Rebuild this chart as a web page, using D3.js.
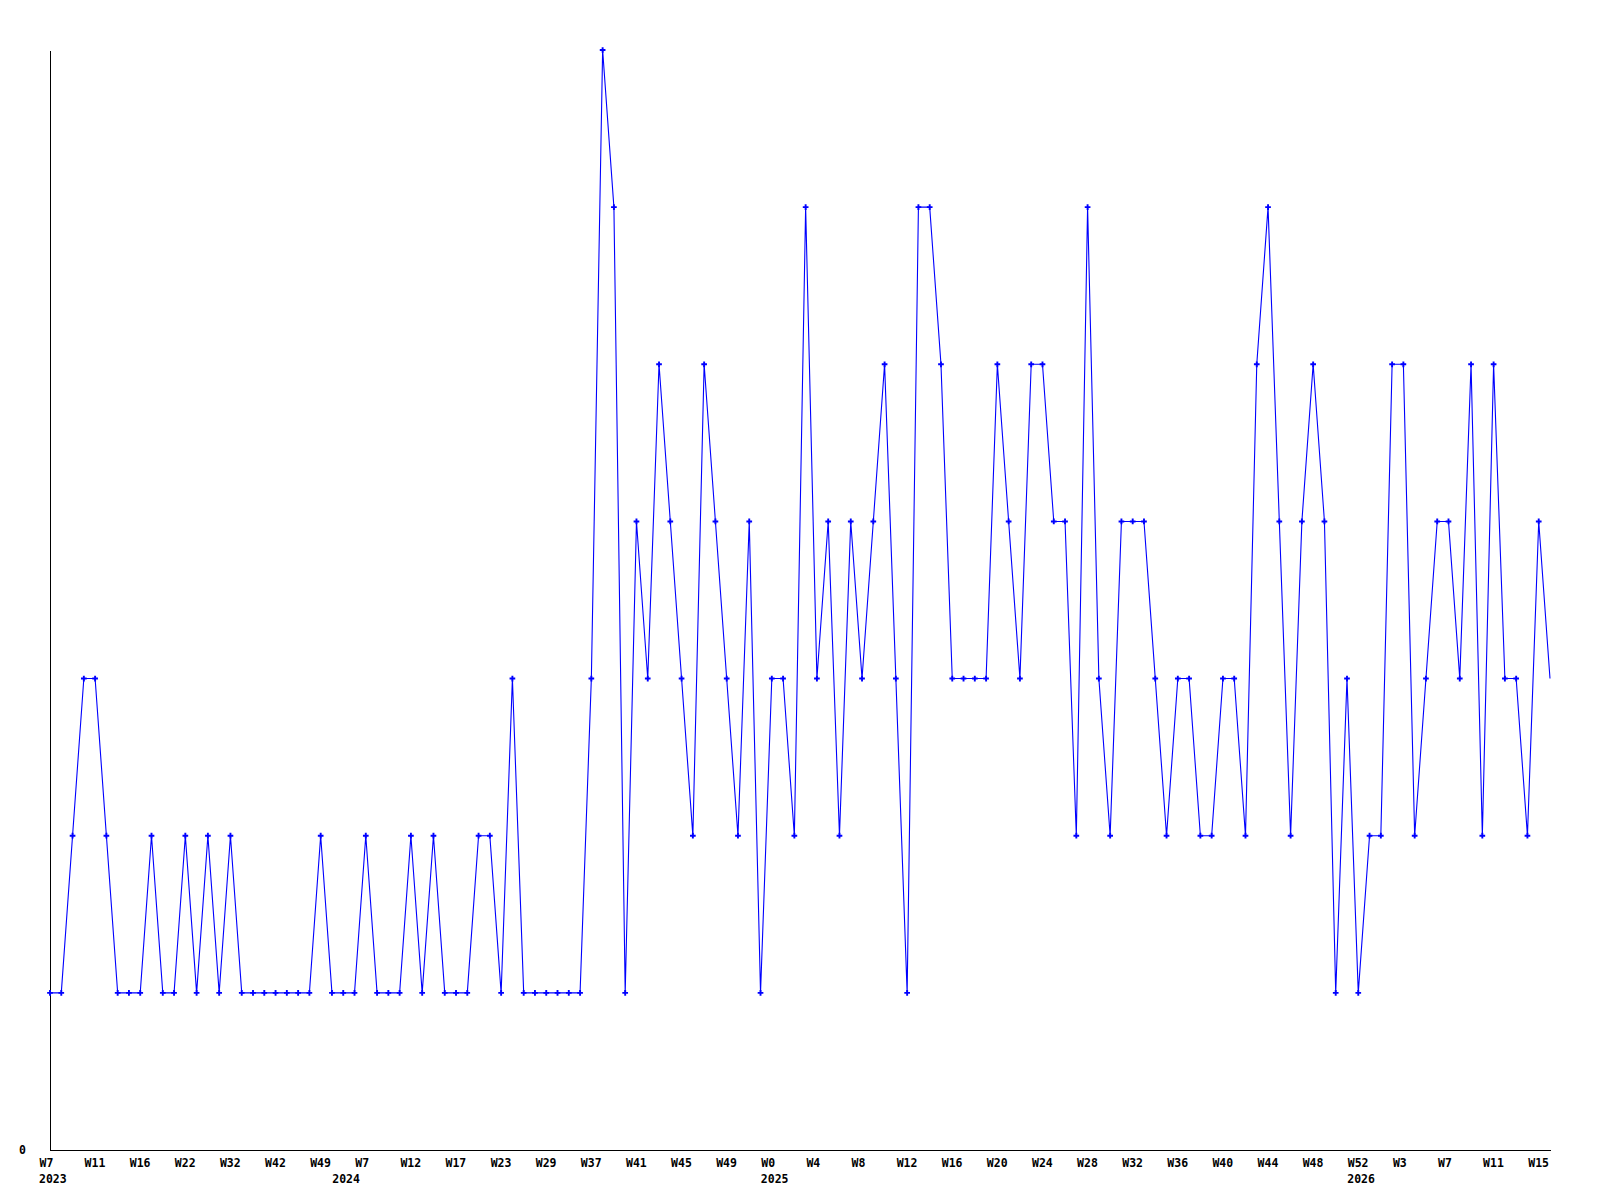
<!DOCTYPE html>
<html>
<head>
<meta charset="utf-8">
<script src="https://cdn.jsdelivr.net/npm/d3@7"></script>
<style>
  body { margin: 0; background: #ffffff; }
  text { font-family: "DejaVu Sans Mono", monospace; font-weight: bold; font-size: 11.5px; fill: #000000; }
</style>
</head>
<body>
<div id="chart"></div>
<script>
// weekly counts, one per point
const counts = [
    1, 1, 2, 3, 3, 2, 1, 1, 1, 2, 1, 1, 2, 1, 2, 1, 2, 1, 1, 1, 1, 1, 1, 1, 2,
    1, 1, 1, 2, 1, 1, 1, 2, 1, 2, 1, 1, 1, 2, 2, 1, 3, 1, 1, 1, 1, 1, 1, 3,
    7, 6, 1, 4, 3, 5, 4, 3, 2, 5, 4, 3, 2, 4, 1, 3, 3, 2, 6, 3, 4,
    2, 4, 3, 4, 5, 3, 1, 6, 6, 5, 3, 3, 3, 3, 5, 4, 3, 5, 5, 4, 4, 2,
    6, 3, 2, 4, 4, 4, 3, 2, 3, 3, 2, 2, 3, 3, 2, 5, 6, 4, 2, 4, 5,
    4, 1, 3, 1, 2, 2, 5, 5, 2, 3, 4, 4, 3, 5, 2, 5, 3, 3, 2, 4, 3
];

// one label every 4th point
const weekLabels = [
    "W7", "W11", "W16", "W22", "W32", "W42", "W49", "W7", "W12", "W17", "W23",
    "W29", "W37", "W41", "W45", "W49", "W0", "W4", "W8", "W12", "W16", "W20", "W24",
    "W28", "W32", "W36", "W40", "W44", "W48", "W52", "W3", "W7", "W11", "W15"
];
const labelStep = 4;

const years = ["2023", "2024", "2025", "2026"];
const yearStart = [0, 26, 64, 116];

const width = 1600;
const height = 1200;
const plotLeft = 50, plotRight = 1550, plotTop = 50, plotBottom = 1150;

const x = d3.scaleLinear()
    .domain([0, counts.length - 1])
    .range([plotLeft, plotRight]);

const y = d3.scaleLinear()
    .domain([0, 7])
    .range([plotBottom, plotTop]);

const svg = d3.select("#chart")
    .append("svg")
    .attr("width", width)
    .attr("height", height)
    .style("background", "#ffffff");

// x axis
const xAxis = d3.axisBottom(x)
    .tickValues(weekLabels.map((d, i) => i * labelStep))
    .tickFormat((d, i) => weekLabels[i])
    .tickSize(0)
    .tickSizeOuter(0)
    .tickPadding(9);

const gx = svg.append("g")
    .attr("transform", `translate(0,${plotBottom})`)
    .call(xAxis);
gx.select(".domain").attr("stroke", "#000000").attr("shape-rendering", "crispEdges");
gx.selectAll("text")
    .attr("text-anchor", "start")
    .attr("dx", -11)
    .style("font-family", "'DejaVu Sans Mono', monospace")
    .style("font-weight", "bold")
    .style("font-size", "11.5px");

// y axis, only the zero is labelled
const yAxis = d3.axisLeft(y)
    .tickValues([0])
    .tickFormat(d3.format("d"))
    .tickSize(0)
    .tickSizeOuter(0)
    .tickPadding(24);

const gy = svg.append("g")
    .attr("transform", `translate(${plotLeft},0)`)
    .call(yAxis);
gy.select(".domain").attr("stroke", "#000000").attr("shape-rendering", "crispEdges");
gy.selectAll("text")
    .style("font-family", "'DejaVu Sans Mono', monospace")
    .style("font-weight", "bold")
    .style("font-size", "11.5px");

// year labels under the week labels
svg.append("g")
    .selectAll("text")
    .data(years)
    .enter()
    .append("text")
    .attr("x", (d, i) => x(yearStart[i]) - 11)
    .attr("y", plotBottom + 32.5)
    .text(d => d);

// the series
const line = d3.line()
    .x((d, i) => x(i))
    .y(d => y(d));

svg.append("path")
    .datum(counts)
    .attr("d", line)
    .attr("fill", "none")
    .attr("stroke", "#0000ff")
    .attr("stroke-width", 1.1);

const cross = d3.symbol().type(d3.symbolCross).size(18);

svg.append("g")
    .selectAll("path")
    .data(counts.slice(0, -1))
    .enter()
    .append("path")
    .attr("d", cross)
    .attr("transform", (d, i) => `translate(${x(i)},${y(d)})`)
    .attr("fill", "#0000ff");
</script>
</body>
</html>
